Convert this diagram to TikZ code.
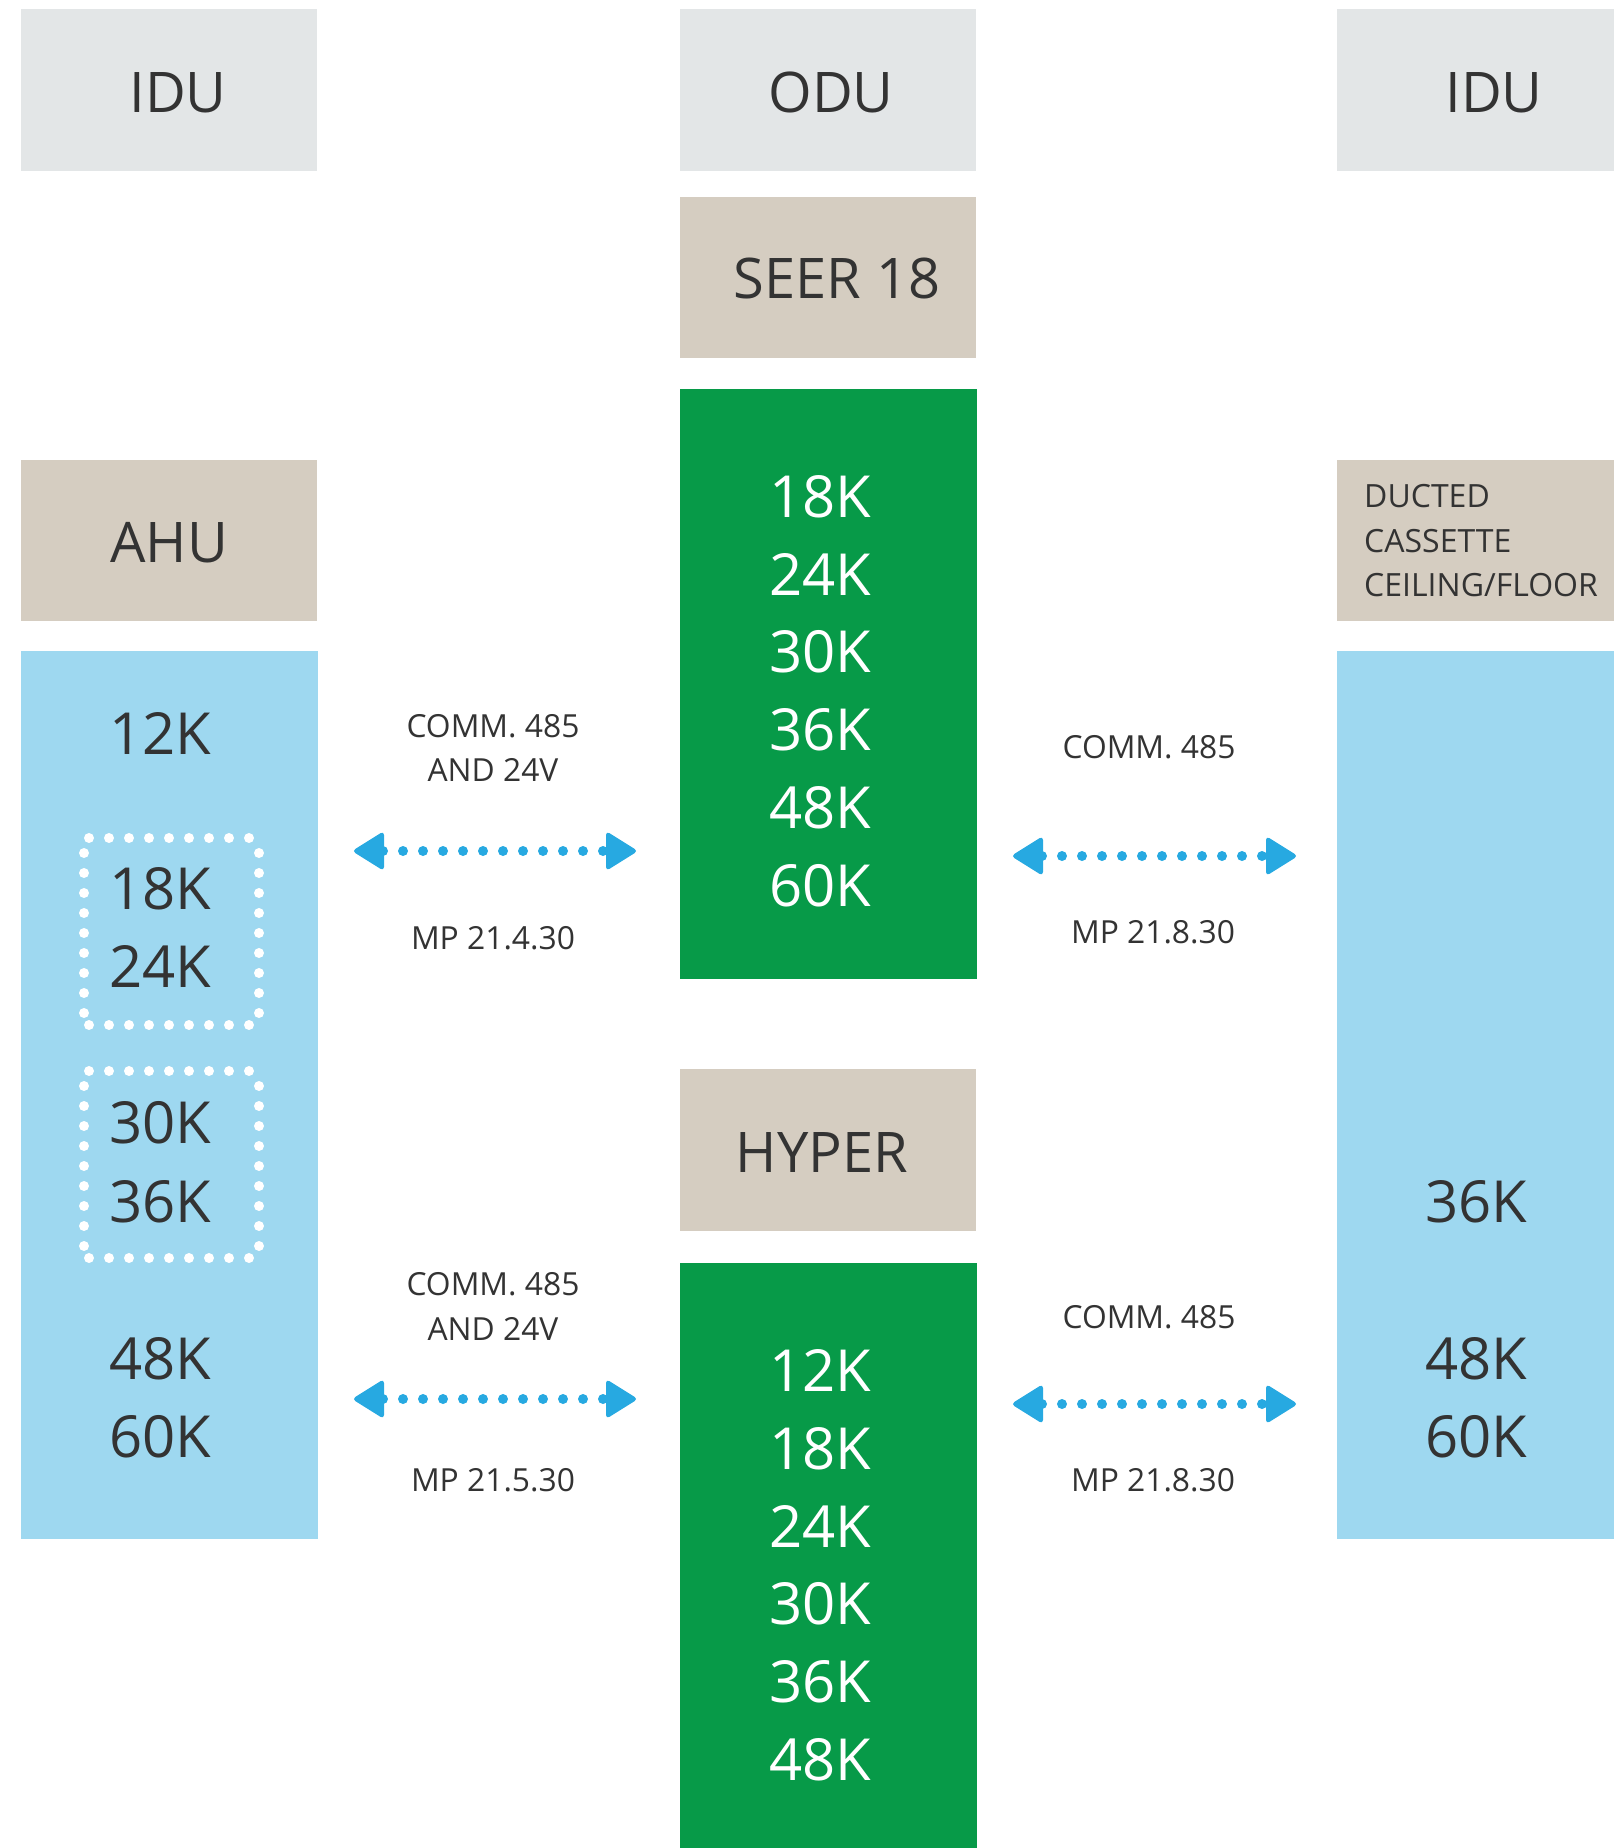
\documentclass[tikz,border=0pt]{standalone}
\usepackage{fontspec}
\setmainfont{Open Sans}
\usetikzlibrary{calc}
\definecolor{boxgray}{HTML}{E3E6E7}
\definecolor{boxtan}{HTML}{D5CDC1}
\definecolor{boxgreen}{HTML}{079A48}
\definecolor{boxblue}{HTML}{9ED8F0}
\definecolor{arrowc}{HTML}{27A9E1}
\definecolor{txt}{HTML}{333333}
\newcommand\dotarrow[2]{%
  \fill[arrowc, rounded corners=4pt] ($(#1)+(-1,0)$) -- ($(#1)+(31,-20)$) -- ($(#1)+(31,20)$) -- cycle;
  \fill[arrowc, rounded corners=4pt] ($(#2)+(1,0)$) -- ($(#2)+(-31,-20)$) -- ($(#2)+(-31,20)$) -- cycle;
  \draw[dotline] ($(#1)+(30,0)$) -- ($(#2)+(-33,0)$);}
\newcommand\dotbox[1]{%
  \foreach \i in {0,...,8} {
    \fill[white] (89+20*\i, #1) circle[radius=5];
    \fill[white] (89+20*\i, #1+187) circle[radius=5];
    \fill[white] (84, #1+15+20*\i) circle[radius=5];
    \fill[white] (259, #1+15+20*\i) circle[radius=5];
  }}
\begin{document}
\begin{tikzpicture}[x=1pt,y=-1pt,
  box/.style={draw=none, inner sep=0pt, outer sep=0pt, anchor=north west},
  big/.style={inner sep=0pt, anchor=base, text=txt, font=\fontsize{56}{60}\selectfont},
  num/.style={inner sep=0pt, anchor=base, text=txt, font=\fontsize{58}{62}\selectfont},
  wnum/.style={num, text=white},
  small/.style={inner sep=0pt, anchor=base, text=txt, font=\fontsize{31.8}{36}\selectfont},
  duct/.style={inner sep=0pt, anchor=base west, text=txt, font=\fontsize{32}{36}\selectfont},
  dotline/.style={arrowc, line width=10pt, line cap=round, dash pattern=on 0pt off 20pt}]
\useasboundingbox (0,0) rectangle (1614,1848);
% boxes
\node[box, fill=boxgray, minimum width=296pt, minimum height=162pt] (idul) at (21,9) {};
\node[box, fill=boxgray, minimum width=296pt, minimum height=162pt] (odu) at (680,9) {};
\node[box, fill=boxgray, minimum width=277pt, minimum height=162pt] (idur) at (1337,9) {};
\node[box, fill=boxtan, minimum width=296pt, minimum height=161pt] (seer) at (680,197) {};
\node[box, fill=boxgreen, minimum width=297pt, minimum height=590pt] (gup) at (680,389) {};
\node[box, fill=boxtan, minimum width=296pt, minimum height=161pt] (ahu) at (21,460) {};
\node[box, fill=boxtan, minimum width=277pt, minimum height=161pt] (duct) at (1337,460) {};
\node[box, fill=boxblue, minimum width=297pt, minimum height=888pt] (bleft) at (21,651) {};
\node[box, fill=boxblue, minimum width=277pt, minimum height=888pt] (bright) at (1337,651) {};
\node[box, fill=boxtan, minimum width=296pt, minimum height=162pt] (hyper) at (680,1069) {};
\node[box, fill=boxgreen, minimum width=297pt, minimum height=585pt] (glow) at (680,1263) {};
% headers
\node[big] (t1) at (178,112) {IDU};
\node[big] (t2) at (831,112) {ODU};
\node[big] (t3) at (1494,112) {IDU};
\node[big] (t4) at (837,298) {SEER 18};
\node[big] (t5) at (169,562) {AHU};
\node[big] (t6) at (822,1172) {HYPER};
\node[duct] (d1) at (1364,507) {DUCTED};
\node[duct] (d2) at (1364,552) {CASSETTE};
\node[duct] (d3) at (1364,596) {CEILING/FLOOR};
% green upper
\node[wnum] (g1) at (820,517) {18K};
\node[wnum] (g2) at (820,595) {24K};
\node[wnum] (g3) at (820,672) {30K};
\node[wnum] (g4) at (820,750) {36K};
\node[wnum] (g5) at (820,828) {48K};
\node[wnum] (g6) at (820,906) {60K};
% green lower
\node[wnum] (h1) at (820,1391) {12K};
\node[wnum] (h2) at (820,1469) {18K};
\node[wnum] (h3) at (820,1547) {24K};
\node[wnum] (h4) at (820,1624) {30K};
\node[wnum] (h5) at (820,1702) {36K};
\node[wnum] (h6) at (820,1780) {48K};
% left blue
\node[num] (l1) at (160,754) {12K};
\node[num] (l2) at (160,909) {18K};
\node[num] (l3) at (160,987) {24K};
\node[num] (l4) at (160,1143) {30K};
\node[num] (l5) at (160,1222) {36K};
\node[num] (l6) at (160,1379) {48K};
\node[num] (l7) at (160,1457) {60K};
% right blue
\node[num] (r1) at (1476,1222) {36K};
\node[num] (r2) at (1476,1379) {48K};
\node[num] (r3) at (1476,1457) {60K};
% dotted boxes
\dotbox{838}
\dotbox{1071}
% labels
\node[small] (c1) at (493,737) {COMM. 485};
\node[small] (c2) at (493,781) {AND 24V};
\node[small] (c3) at (493,949) {MP 21.4.30};
\node[small] (c4) at (1149,758) {COMM. 485};
\node[small] (c5) at (1153,943) {MP 21.8.30};
\node[small] (c6) at (493,1295) {COMM. 485};
\node[small] (c7) at (493,1340) {AND 24V};
\node[small] (c8) at (493,1491) {MP 21.5.30};
\node[small] (c9) at (1149,1328) {COMM. 485};
\node[small] (c10) at (1153,1491) {MP 21.8.30};
% arrows
\coordinate (a1s) at (353,851); \coordinate (a1e) at (637,851);
\coordinate (a2s) at (1012,856); \coordinate (a2e) at (1297,856);
\coordinate (a3s) at (353,1399); \coordinate (a3e) at (637,1399);
\coordinate (a4s) at (1012,1404); \coordinate (a4e) at (1297,1404);
\dotarrow{a1s}{a1e}
\dotarrow{a2s}{a2e}
\dotarrow{a3s}{a3e}
\dotarrow{a4s}{a4e}
\end{tikzpicture}
\end{document}
